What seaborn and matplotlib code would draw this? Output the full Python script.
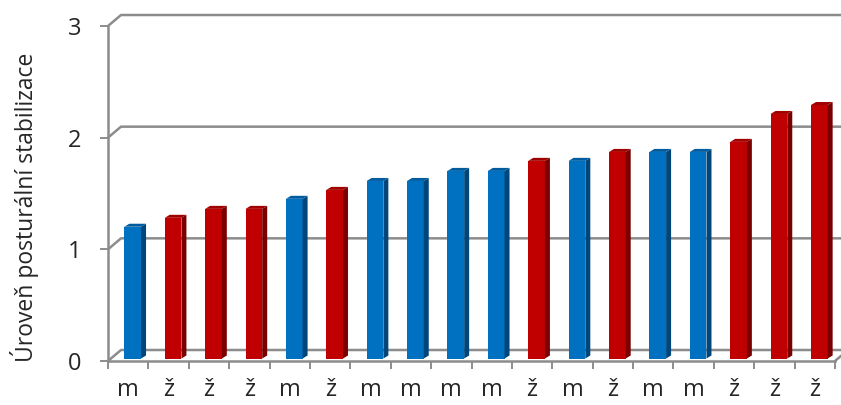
import matplotlib

matplotlib.use("Agg")
import matplotlib.pyplot as plt
import numpy as np
import pandas as pd
import seaborn as sns
from matplotlib.patches import Polygon

# %% data
sex = ["m", "ž", "ž", "ž", "m", "ž", "m", "m", "m", "m",
       "ž", "m", "ž", "m", "m", "ž", "ž", "ž"]
stabilization = [1.18, 1.26, 1.34, 1.34, 1.43, 1.51, 1.59, 1.59, 1.68, 1.68,
                 1.77, 1.77, 1.85, 1.85, 1.85, 1.94, 2.19, 2.27]
y_ticks = [0, 1, 2, 3]
y_label = "Úroveň posturální stabilizace"

front = {"m": "#0070C0", "ž": "#C00000"}
side = {"m": "#00467A", "ž": "#7A0000"}
top = {"m": "#005C9E", "ž": "#A00000"}
grid_col = "#8c8c8c"

df = pd.DataFrame({"pos": range(len(sex)), "sex": sex, "value": stabilization})

# %% figure
sns.set_style("white")
plt.rcParams["font.family"] = ["Open Sans", "DejaVu Sans"]

fig = plt.figure(figsize=(8.41, 4.05), dpi=100)
ax = fig.add_axes([108 / 841, 44 / 405, 727 / 841, 335 / 405])

sns.barplot(data=df, x="pos", y="value", hue="sex", palette=front,
            dodge=False, width=0.413, legend=False, ax=ax, zorder=3,
            linewidth=0, saturation=1)

n = len(sex)
ax.set_xlim(-0.5, n - 0.5)
ax.set_ylim(0, 3)

# pixel -> data conversions
px_x = 1 / 40.39
px_y = 1 / 111.7
back_dx, back_dy = 13 * px_x, 11 * px_y   # back wall offset
bar_dx, bar_dy = 4.5 * px_x, 2.5 * px_y   # bar front face offset
dep_dx, dep_dy = 5 * px_x, 3 * px_y       # bar depth

# back wall gridlines + side wall connectors
for v in y_ticks:
    ax.plot([-0.5, -0.5 + back_dx, n - 0.5 + back_dx],
            [v, v + back_dy, v + back_dy],
            color=grid_col, lw=1.8, clip_on=False, zorder=1,
            solid_capstyle="butt")
ax.plot([n - 0.5, n - 0.5 + back_dx], [0, back_dy], color=grid_col,
        lw=1.8, clip_on=False, zorder=1)

# 3D bar faces
for p in ax.patches:
    x0 = p.get_x() + bar_dx
    w = p.get_width()
    h = p.get_height()
    idx = int(round(p.get_x() + w / 2))
    g = sex[idx]
    p.set_x(x0)
    p.set_y(bar_dy)
    p.set_clip_on(False)
    y0 = bar_dy
    x1 = x0 + w
    ax.add_patch(Polygon([(x1, y0), (x1 + dep_dx, y0 + dep_dy),
                          (x1 + dep_dx, y0 + h + dep_dy), (x1, y0 + h)],
                         closed=True, facecolor=side[g], lw=0, zorder=3,
                         clip_on=False))
    ax.add_patch(Polygon([(x0, y0 + h), (x1, y0 + h),
                          (x1 + dep_dx, y0 + h + dep_dy),
                          (x0 + dep_dx, y0 + h + dep_dy)],
                         closed=True, facecolor=top[g], lw=0, zorder=3,
                         clip_on=False))

# axes styling
for s in ["top", "right"]:
    ax.spines[s].set_visible(False)
for s in ["left", "bottom"]:
    ax.spines[s].set_color(grid_col)
    ax.spines[s].set_linewidth(1.8)
    ax.spines[s].set_zorder(4)

ax.set_yticks(y_ticks)
ax.set_yticklabels([str(t) for t in y_ticks])
ax.tick_params(axis="y", length=6, width=1.4, color=grid_col, pad=13,
               labelsize=17, left=True)

ax.set_xticks(np.arange(n))
ax.set_xticklabels(sex)
ax.set_xticks(np.arange(n + 1) - 0.5, minor=True)
ax.tick_params(axis="x", which="major", length=0, pad=12, labelsize=17)
ax.tick_params(axis="x", which="minor", length=6, width=1.4,
               color=grid_col, bottom=True)

ax.set_xlabel("")
ax.set_ylabel(y_label, fontsize=16.5)
ax.yaxis.set_label_coords(-0.095, 0.46)
ax.grid(False)

plt.savefig("out.png", dpi=100)
plt.close()
